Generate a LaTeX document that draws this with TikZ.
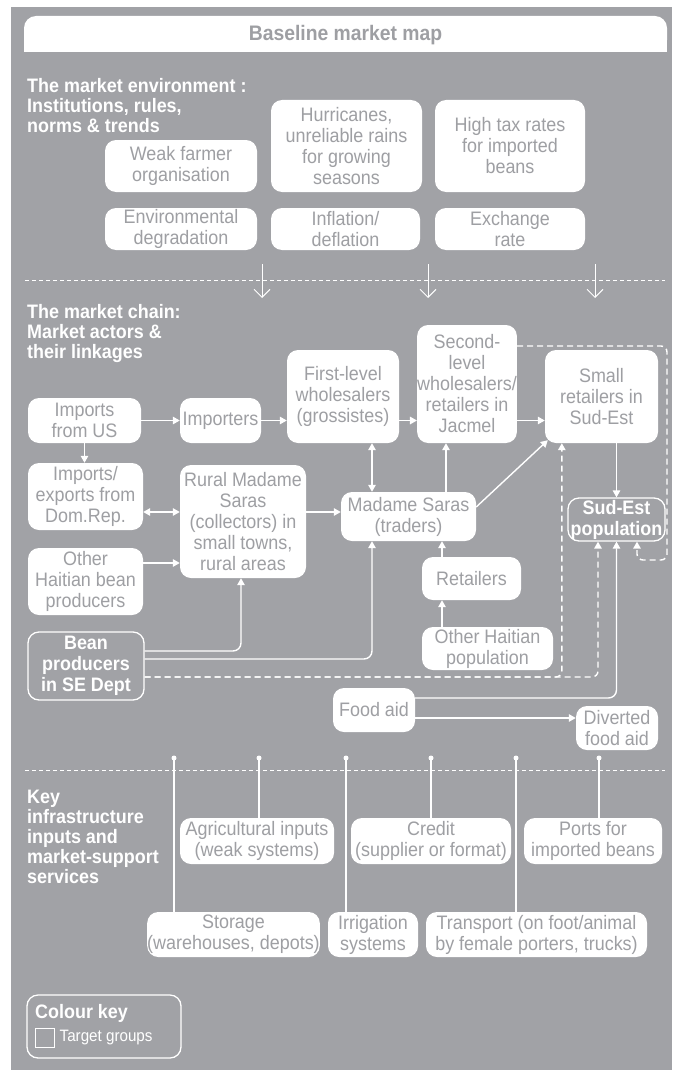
\documentclass[tikz,border=0pt]{standalone}
\usepackage{fontspec}
\setmainfont{Liberation Sans}[FakeStretch=0.92]
\usetikzlibrary{arrows.meta,positioning,calc}

\definecolor{mapgrey}{RGB}{161,162,166}
\definecolor{boxtext}{RGB}{158,159,163}
\newcommand{\mapfont}{\fontsize{19.5}{21}\selectfont}
\newcommand{\headfont}{\fontsize{19.5}{20}\selectfont\bfseries}

\tikzstyle{box} = [rectangle, rounded corners=11pt, fill=white, text=boxtext, align=center, inner sep=0pt]
\tikzstyle{target} = [rectangle, rounded corners=11pt, fill=mapgrey, draw=white, line width=1.3pt, text=white, align=center, inner sep=0pt, font=\mapfont\bfseries]
\tikzstyle{heading} = [anchor=north west, align=left, inner sep=0pt, text=white, font=\headfont]
\tikzstyle{link} = [draw=white, line width=1.4pt, ->]
\tikzstyle{dashlink} = [link, dash pattern=on 6pt off 4pt, rounded corners=6pt]
\tikzstyle{envarrow} = [draw=white, line width=0.9pt, -{Straight Barb[length=8pt,width=16pt]}]
\tikzstyle{sepline} = [draw=white, line width=1pt, dash pattern=on 4pt off 3pt]

\begin{document}
\begin{tikzpicture}[x=1pt, y=-1pt, font=\mapfont, >={Triangle[length=7pt,width=7.5pt]}]

\useasboundingbox (0,0) rectangle (672,1070);
\fill[white] (0,0) rectangle (672,1070);
\fill[mapgrey] (11,7) rectangle (672,1070);

% title bar, square at the bottom
\fill[white, rounded corners=12pt] (24,16) rectangle (667,52);
\fill[white] (24,32) rectangle (667,52);
\node(title)[font=\fontsize{21}{24}\selectfont\bfseries, text=boxtext] at (345.5,35) {Baseline market map};

% section rules
\draw[sepline] (25,280) -- (665,280);
\draw[sepline] (25,770) -- (665,770);

% market environment
\node(envhead)[heading] at (27,78) {The market environment :\\Institutions, rules,\\norms \& trends};
\node(weak)[box, minimum width=152pt, minimum height=52pt] at (181,166) {Weak farmer\\organisation};
\node(hurricanes)[box, minimum width=151pt, minimum height=92pt] at (346.5,146) {Hurricanes,\\unreliable rains\\for growing\\seasons};
\node(tax)[box, minimum width=150pt, minimum height=92pt] at (510,146) {High tax rates\\for imported\\beans};
\node(envdeg)[box, minimum width=152pt, minimum height=42pt] at (181,229) {Environmental\\degradation};
\node(inflation)[box, minimum width=149pt, minimum height=42pt] at (345.5,229) {Inflation/\\deflation};
\node(exchange)[box, minimum width=150pt, minimum height=42pt] at (510,229) {Exchange\\rate};

\foreach \x [count=\i] in {262,428,595} {
  \coordinate (drop\i) at (\x,264);
  \draw[envarrow] (drop\i) -- ++(0,34);
}

% market chain
\node(chainhead)[heading] at (27,304) {The market chain:\\Market actors \&\\their linkages};
\node(usimports)[box, minimum width=113pt, minimum height=45pt] at (84.5,420.5) {Imports\\from US};
\node(importers)[box, minimum width=81pt, minimum height=45pt] at (220.5,420.5) {Importers};
\node(firstlevel)[box, minimum width=112pt, minimum height=93pt] at (343,396.5) {First-level\\wholesalers\\(grossistes)};
\node(secondlevel)[box, minimum width=90pt, minimum height=118pt] at (467,384) {Second-\\level\\wholesalers/\\retailers in\\Jacmel};
\node(smallret)[box, minimum width=113pt, minimum height=93pt] at (601.5,396.5) {Small\\retailers in\\Sud-Est};
\node(domrep)[box, minimum width=115pt, minimum height=67pt] at (85.5,496.5) {Imports/\\exports from\\Dom.Rep.};
\node(rural)[box, minimum width=126pt, minimum height=113pt] at (243,521.5) {Rural Madame\\Saras\\(collectors) in\\small towns,\\rural areas};
\node(saras)[box, minimum width=135pt, minimum height=49pt] at (408.5,516.5) {Madame Saras\\(traders)};
\node(otherprod)[box, minimum width=115pt, minimum height=67pt] at (85.5,581.5) {Other\\Haitian bean\\producers};
\node(sudest)[target, minimum width=97pt, minimum height=43pt] at (616.5,519.5) {Sud-Est\\population};
\node(retailers)[box, minimum width=99pt, minimum height=43pt] at (471.5,578.5) {Retailers};
\node(otherpop)[box, minimum width=131pt, minimum height=43pt] at (487.5,648.5) {Other Haitian\\population};
\node(beanprod)[target, minimum width=116pt, minimum height=68pt] at (86,666) {Bean\\producers\\in SE Dept};
\node(foodaid)[box, minimum width=82pt, minimum height=44pt] at (374,710) {Food aid};
\node(diverted)[box, minimum width=82pt, minimum height=44pt] at (617,728) {Diverted\\food aid};

\draw[link] (usimports) -- (importers);
\draw[link] (importers.east) -- (importers.east -| firstlevel.west);
\draw[link] (firstlevel.east |- importers.east) -- (secondlevel.west |- importers.east);
\draw[link] (secondlevel.east |- importers.east) -- (smallret.west |- importers.east);
\draw[link] (usimports.south) -- (usimports.south |- domrep.north);
\draw[link, <->] ([yshift=-15.5pt]domrep.east) -- ([yshift=-15.5pt]domrep.east -| rural.west);
\draw[link] ([yshift=18.5pt]otherprod.east) -- ([yshift=18.5pt]otherprod.east -| rural.west);
\draw[link] ([yshift=9.5pt]rural.east) -- ([yshift=9.5pt]rural.east -| saras.west);
\draw[link, <->] ([xshift=29pt]firstlevel.south) -- ([xshift=29pt]firstlevel.south |- saras.north);
\draw[link] ([xshift=37.5pt]saras.north) -- ([xshift=37.5pt]saras.north |- secondlevel.south);
\draw[link] ([yshift=9.5pt]saras.east) -- ([xshift=3pt,yshift=3pt]smallret.south west);
\draw[link] (smallret.south -| sudest.north) -- (sudest.north);
\draw[link] ([xshift=-29.5pt]retailers.north) -- ([xshift=-29.5pt]retailers.north |- saras.south);
\draw[link] ([xshift=-45.5pt]otherpop.north) -- ([xshift=-45.5pt]otherpop.north |- retailers.south);
\draw[link, rounded corners=8pt] ([yshift=15pt]beanprod.east) -| ([xshift=-2pt]rural.south);
\draw[link, rounded corners=8pt] ([yshift=7pt]beanprod.east) -| ([xshift=-36.5pt]saras.south);
\draw[dashlink] ([yshift=-11pt]beanprod.east) -| ([xshift=17pt]smallret.south west);
\draw[dashlink] ([yshift=-11pt]beanprod.east) -| ([xshift=-18.5pt]sudest.south);
\draw[link, rounded corners=8pt] ([yshift=12pt]foodaid.east) -| (sudest.south);
\draw[link] ([yshift=-8pt]foodaid.east) -- ([yshift=-8pt]foodaid.east -| diverted.west);
\coordinate (loopcorner) at (667,560);
\draw[dashlink] ([yshift=38pt]secondlevel.east) -| (loopcorner) -| ([xshift=20.5pt]sudest.south);

% infrastructure and services
\node(infrahead)[heading] at (27,790) {Key\\infrastructure\\inputs and\\market-support\\services};
\node(agri)[box, minimum width=154pt, minimum height=46pt] at (257,841) {Agricultural inputs\\(weak systems)};
\node(credit)[box, minimum width=160pt, minimum height=46pt] at (431,841) {Credit\\(supplier or format)};
\node(ports)[box, minimum width=138pt, minimum height=46pt] at (593,841) {Ports for\\imported beans};
\node(storage)[box, minimum width=171pt, minimum height=45pt] at (233.5,934.5) {Storage\\(warehouses, depots)};
\node(irrigation)[box, minimum width=90pt, minimum height=45pt] at (373,934.5) {Irrigation\\systems};
\node(transport)[box, minimum width=221pt, minimum height=45pt] at (536.5,934.5) {Transport (on foot/animal\\by female porters, trucks)};

\foreach \n/\x in {storage/174, agri/259, irrigation/346, credit/431, transport/516, ports/599} {
  \coordinate (pin-\n) at (\x,758);
  \fill[white] (pin-\n) circle (2.5pt);
  \draw[white, line width=1.2pt] (pin-\n) -- (pin-\n |- \n.north);
}

% colour key
\node(key)[target, minimum width=154pt, minimum height=63pt] at (104,1026.5) {};
\node(keytitle)[anchor=west, inner sep=0pt, text=white, font=\mapfont\bfseries] at (35,1013) {Colour key};
\node(keysquare)[draw=white, line width=1pt, minimum size=19pt, inner sep=0pt] at (44.5,1037.5) {};
\node(keylabel)[right=5pt of keysquare, inner sep=0pt, text=white, font=\fontsize{16.5}{19}\selectfont] {Target groups};

\end{tikzpicture}
\end{document}
